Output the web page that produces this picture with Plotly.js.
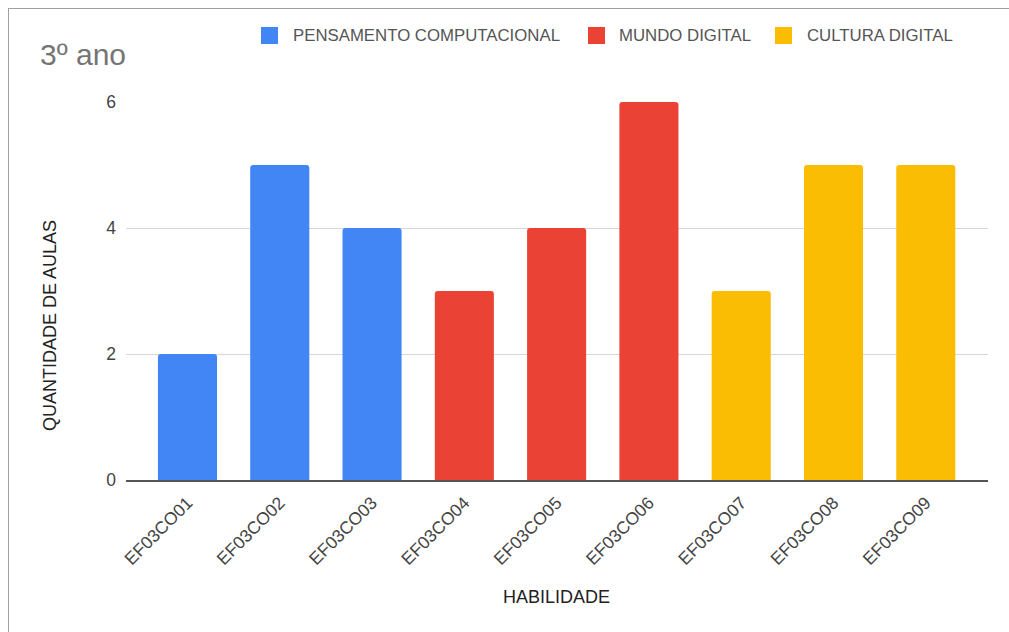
<!DOCTYPE html>
<html>
<head>
<meta charset="utf-8">
<script src="https://cdn.plot.ly/plotly-3.0.1.min.js"></script>
<style>
  html, body { margin: 0; padding: 0; background: #fff; }
  #wrap { position: relative; width: 1009px; height: 632px; }
  #chart { position: absolute; left: 0; top: 0; width: 1009px; height: 632px; }
  #frame { position: absolute; left: 8px; top: 8px; right: 0; bottom: 0;
           border-left: 1px solid #a0a0a0; border-top: 1px solid #a0a0a0;
           pointer-events: none; }
</style>
</head>
<body>
<div id="wrap">
  <div id="chart"></div>
  <div id="frame"></div>
</div>
<script>
// Habilidades do 3º ano and number of lessons per skill, grouped by axis
const categories = ['EF03CO01', 'EF03CO02', 'EF03CO03', 'EF03CO04', 'EF03CO05',
                    'EF03CO06', 'EF03CO07', 'EF03CO08', 'EF03CO09'];

const pensamentoSkills = ['EF03CO01', 'EF03CO02', 'EF03CO03'];
const pensamentoValues = [2, 5, 4];

const mundoSkills = ['EF03CO04', 'EF03CO05', 'EF03CO06'];
const mundoValues = [3, 4, 6];

const culturaSkills = ['EF03CO07', 'EF03CO08', 'EF03CO09'];
const culturaValues = [3, 5, 5];

const seriesNames = ['PENSAMENTO COMPUTACIONAL', 'MUNDO DIGITAL', 'CULTURA DIGITAL'];
const seriesColors = ['#4285F4', '#EA4335', '#FBBC04'];
const yTicks = [0, 2, 4, 6];

const FONT = 'Liberation Sans, Arial, sans-serif';

// Plot area geometry in pixels (used to place the key and axis titles)
const W = 1009, H = 632;
const M = { l: 126, r: 21, t: 102, b: 152 };
const plotW = W - M.l - M.r;
const plotH = H - M.t - M.b;
const px = x => (x - M.l) / plotW;
const py = y => (H - M.b - y) / plotH;

function barTrace(name, xs, ys, color) {
  return {
    type: 'bar',
    name: name,
    x: xs,
    y: ys,
    width: 0.64,
    marker: { color: color, line: { width: 0 }, cornerradius: 3 },
    hoverinfo: 'x+y',
    showlegend: false
  };
}

const data = [
  barTrace(seriesNames[0], pensamentoSkills, pensamentoValues, seriesColors[0]),
  barTrace(seriesNames[1], mundoSkills, mundoValues, seriesColors[1]),
  barTrace(seriesNames[2], culturaSkills, culturaValues, seriesColors[2])
];

// Horizontal key above the plot: colour square + label for each series
const keySquareLeft = [261, 588, 775];
const keyTextLeft = [291, 617, 805];
const keyTop = 27, keySize = 17;

const shapes = seriesNames.map((n, i) => ({
  type: 'rect',
  xref: 'paper', yref: 'paper',
  x0: px(keySquareLeft[i]), x1: px(keySquareLeft[i] + keySize),
  y0: py(keyTop + keySize), y1: py(keyTop),
  fillcolor: seriesColors[i],
  line: { width: 0 },
  layer: 'above'
}));

const annotations = seriesNames.map((n, i) => ({
  text: n,
  xref: 'paper', yref: 'paper',
  x: px(keyTextLeft[i]), y: py(keyTop + keySize / 2),
  xanchor: 'left', yanchor: 'middle',
  showarrow: false,
  font: { family: FONT, size: 16.8, color: '#555555' }
}));

annotations.push({
  text: 'HABILIDADE',
  xref: 'paper', yref: 'paper',
  x: px(556), y: py(597),
  xanchor: 'center', yanchor: 'middle',
  showarrow: false,
  font: { family: FONT, size: 18, color: '#222222' }
});

annotations.push({
  text: 'QUANTIDADE DE AULAS',
  xref: 'paper', yref: 'paper',
  x: px(50), y: py(326),
  xanchor: 'center', yanchor: 'middle',
  textangle: -90,
  showarrow: false,
  font: { family: FONT, size: 18, color: '#222222' }
});

const layout = {
  width: W,
  height: H,
  paper_bgcolor: '#ffffff',
  plot_bgcolor: '#ffffff',
  font: { family: FONT, color: '#444444' },
  margin: { l: M.l, r: M.r, t: M.t, b: M.b, pad: 0 },
  barmode: 'overlay',
  showlegend: false,
  title: {
    text: '3º ano',
    font: { family: FONT, size: 30, color: '#757575' },
    xref: 'container', yref: 'container',
    x: 40 / W, xanchor: 'left',
    y: 1 - 54 / H, yanchor: 'middle'
  },
  xaxis: {
    type: 'category',
    categoryorder: 'array',
    categoryarray: categories,
    range: [-0.666, 8.674],
    tickangle: -45,
    tickfont: { family: FONT, size: 17.5, color: '#444444' },
    ticklabelstandoff: 4,
    showgrid: false,
    showline: true,
    linecolor: '#555555',
    linewidth: 1.5,
    ticks: '',
    automargin: false
  },
  yaxis: {
    range: [0, 6],
    tickvals: yTicks,
    ticktext: yTicks.map(String),
    tickfont: { family: FONT, size: 17.5, color: '#444444' },
    showgrid: true,
    gridcolor: '#d6d6d6',
    gridwidth: 1,
    zeroline: false,
    showline: false,
    ticks: '',
    ticklabelstandoff: 9,
    automargin: false
  },
  shapes: shapes,
  annotations: annotations
};

Plotly.newPlot('chart', data, layout, { displayModeBar: false });
</script>
</body>
</html>
